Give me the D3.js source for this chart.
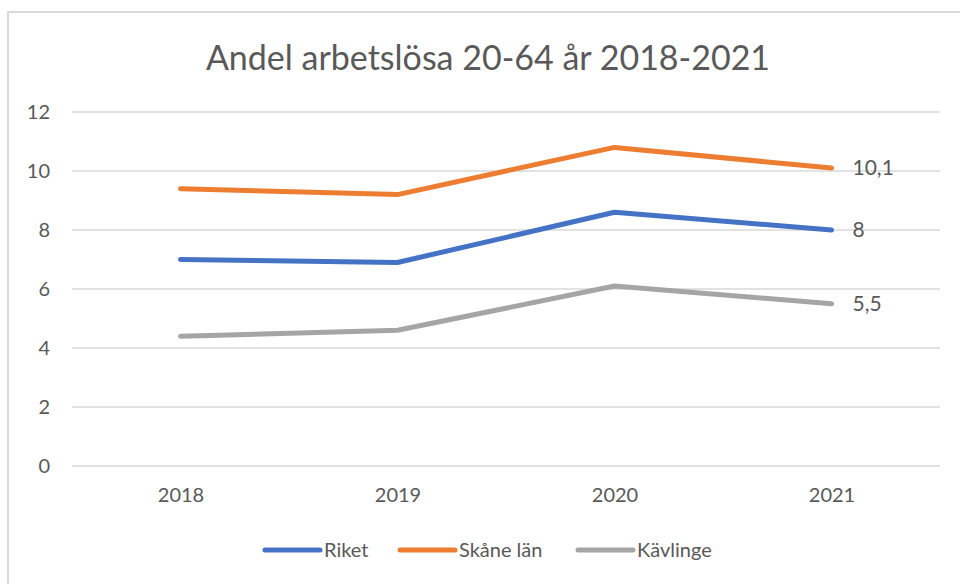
<!doctype html>
<html lang="sv">
<head>
  <meta charset="utf-8">
  <title>Andel arbetslösa</title>
  <style>
    * { margin: 0; padding: 0; box-sizing: border-box; }
    body { background: #fff; }
    #container { width: 960px; height: 584px; }
    text { font-family: Lato, "Open Sans", sans-serif; fill: #595959; }
  </style>
</head>
<body>
  <div id="container"></div>
  <script src="https://cdn.jsdelivr.net/npm/d3@7"></script>
  <script>
    const years = ['2018', '2019', '2020', '2021'];
    const riket = [7.0, 6.9, 8.6, 8.0];
    const skane = [9.4, 9.2, 10.8, 10.1];
    const kavlinge = [4.4, 4.6, 6.1, 5.5];
    const seriesNames = ['Riket', 'Skåne län', 'Kävlinge'];
    const seriesColors = ['#4472C4', '#ED7D31', '#A5A5A5'];
    const yTicks = [0, 2, 4, 6, 8, 10, 12];

    const series = [riket, skane, kavlinge].map((vals, i) => ({
      name: seriesNames[i], color: seriesColors[i], values: vals
    }));

    const W = 960, H = 584;
    const svg = d3.select('#container').append('svg')
      .attr('width', W).attr('height', H);

    // chart frame (only top/left visible in the crop)
    svg.append('rect')
      .attr('x', 8).attr('y', 12)
      .attr('width', 1000).attr('height', 700)
      .attr('fill', '#fff')
      .attr('stroke', '#d9d9d9').attr('stroke-width', 2);

    svg.append('text')
      .attr('x', 488).attr('y', 70)
      .attr('text-anchor', 'middle')
      .style('font-size', '34px')
      .text('Andel arbetslösa 20-64 år 2018-2021');

    const plot = {left: 72, right: 940, top: 112, bottom: 466};

    const x = d3.scalePoint()
      .domain(years)
      .range([plot.left, plot.right])
      .padding(0.5);

    const y = d3.scaleLinear()
      .domain([0, 12])
      .range([plot.bottom, plot.top]);

    // grid
    svg.append('g')
      .selectAll('line')
      .data(yTicks)
      .join('line')
      .attr('x1', plot.left).attr('x2', plot.right)
      .attr('y1', d => y(d)).attr('y2', d => y(d))
      .attr('stroke', '#d9d9d9').attr('stroke-width', 1.5);

    // y axis labels
    const yAxis = svg.append('g')
      .attr('transform', `translate(${plot.left - 22},0)`)
      .call(d3.axisLeft(y).tickValues(yTicks).tickSize(0).tickPadding(0));
    yAxis.select('.domain').remove();
    yAxis.selectAll('text')
      .style('font-size', '20px').attr('fill', '#595959');

    // x axis labels
    const xAxis = svg.append('g')
      .attr('transform', `translate(0,${plot.bottom})`)
      .call(d3.axisBottom(x).tickSize(0).tickPadding(22));
    xAxis.select('.domain').remove();
    xAxis.selectAll('text')
      .style('font-size', '20px').attr('fill', '#595959');

    const line = d3.line()
      .x((d, i) => x(years[i]))
      .y(d => y(d));

    svg.append('g')
      .selectAll('path')
      .data(series)
      .join('path')
      .attr('d', d => line(d.values))
      .attr('fill', 'none')
      .attr('stroke', d => d.color)
      .attr('stroke-width', 5)
      .attr('stroke-linecap', 'round')
      .attr('stroke-linejoin', 'round');

    // end labels
    const last = years.length - 1;
    svg.append('g')
      .selectAll('text')
      .data(series)
      .join('text')
      .attr('x', x(years[last]) + 21)
      .attr('y', d => y(d.values[last]))
      .attr('dy', '0.35em')
      .style('font-size', '21px')
      .text(d => String(d.values[last]).replace('.', ','));

    // legend
    const legendX = [265, 400, 578];
    const lg = svg.append('g')
      .selectAll('g')
      .data(series)
      .join('g')
      .attr('transform', (d, i) => `translate(${legendX[i]},550)`);
    lg.append('line')
      .attr('x1', 0).attr('x2', 55)
      .attr('stroke', d => d.color)
      .attr('stroke-width', 5)
      .attr('stroke-linecap', 'round');
    lg.append('text')
      .attr('x', 59).attr('dy', '0.35em')
      .style('font-size', '20px')
      .text(d => d.name);
  </script>
</body>
</html>
